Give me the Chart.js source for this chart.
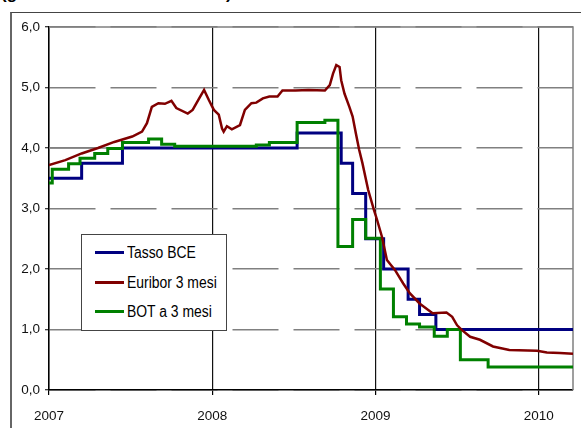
<!DOCTYPE html>
<html lang="it">
<head>
<meta charset="utf-8">
<script src="https://cdn.jsdelivr.net/npm/chart.js@4.4.0/dist/chart.umd.min.js"></script>
<style>
  body {
    margin: 0;
    width: 581px;
    height: 428px;
    overflow: hidden;
    position: relative;
    background: #fff;
    font-family: 'Liberation Sans Narrow', 'Arial Narrow', 'Liberation Sans', Arial, sans-serif;
  }
  #titolo {
    position: absolute;
    left: 1px;
    top: -15px;
    font: bold 17px/17px 'Liberation Sans', Arial, sans-serif;
    white-space: nowrap;
    color: #000;
  }
  #cornice {
    position: absolute;
    left: 10px;
    top: 12px;
    width: 620px;
    height: 480px;
    border-left: 2px solid #666;
    border-top: 1px solid #444;
  }
  #grafico { position: absolute; left: 0; top: 0; }
  #legenda {
    position: absolute;
    left: 81px;
    top: 234px;
    width: 144px;
    height: 95px;
    border: 1px solid #444;
    background: #fff;
  }
  .voce {
    position: absolute;
    left: 13px;
    height: 20px;
    line-height: 20px;
    font-size: 16px;
    color: #000;
    white-space: nowrap;
  }
  .voce .linea {
    display: inline-block;
    width: 29px;
    height: 3px;
    vertical-align: middle;
    margin-right: 3px;
    position: relative;
    top: -1px;
  }
  .voce .testo {
    display: inline-block;
    transform: scaleX(0.87);
    transform-origin: left center;
  }
</style>
</head>
<body>
<div id="titolo">(gennaio 2007 – marzo 2010)</div>
<div id="cornice"></div>
<canvas id="grafico" width="581" height="428"></canvas>
<div id="legenda"></div>

<script>
// Assi
const anni = [2007, 2008, 2009, 2010];
const valoriAsseY = [0, 1, 2, 3, 4, 5, 6];

// Tasso BCE (data di variazione, tasso)
const dateBce = [2007.00, 2007.20, 2007.45, 2008.52, 2008.79, 2008.86, 2008.94, 2009.05, 2009.20, 2009.27, 2009.37, 2010.21];
const tassoBce = [3.50, 3.75, 4.00, 4.25, 3.75, 3.25, 2.50, 2.00, 1.50, 1.25, 1.00, 1.00];

// Euribor 3 mesi
const dateEuribor = [
    2007.00, 2007.10, 2007.20, 2007.30, 2007.40, 2007.51, 2007.57, 2007.60, 2007.63, 2007.67,
    2007.71, 2007.75, 2007.78, 2007.85, 2007.88, 2007.92, 2007.95, 2007.98, 2008.01, 2008.04,
    2008.06, 2008.07, 2008.09, 2008.12, 2008.17, 2008.20, 2008.24, 2008.27, 2008.31, 2008.35,
    2008.40, 2008.43, 2008.51, 2008.59, 2008.69, 2008.72, 2008.74, 2008.76, 2008.78, 2008.79,
    2008.81, 2008.84, 2008.86, 2008.88, 2008.90, 2008.92, 2008.955, 2008.99, 2009.01, 2009.04,
    2009.07, 2009.12, 2009.17, 2009.21, 2009.27, 2009.35, 2009.435, 2009.47, 2009.50, 2009.53,
    2009.58, 2009.64, 2009.72, 2009.82, 2009.99, 2010.05, 2010.13, 2010.21
];
const tassoEuribor = [
    3.72, 3.80, 3.91, 4.00, 4.10, 4.19, 4.27, 4.41, 4.68, 4.74,
    4.73, 4.78, 4.66, 4.57, 4.63, 4.82, 4.96, 4.79, 4.63, 4.55,
    4.32, 4.27, 4.36, 4.31, 4.38, 4.63, 4.74, 4.75, 4.82, 4.85,
    4.85, 4.95, 4.95, 4.96, 4.95, 5.04, 5.23, 5.37, 5.34, 5.12,
    4.90, 4.68, 4.52, 4.24, 3.97, 3.75, 3.31, 2.98, 2.81, 2.53,
    2.15, 1.98, 1.76, 1.60, 1.43, 1.27, 1.28, 1.21, 1.07, 0.99,
    0.88, 0.83, 0.72, 0.66, 0.65, 0.62, 0.61, 0.60
];

// BOT a 3 mesi (aste)
const dateBot = [
    2007.00, 2007.02, 2007.12, 2007.19, 2007.28, 2007.36, 2007.45, 2007.61, 2007.69, 2007.77,
    2008.27, 2008.35, 2008.52, 2008.69, 2008.77, 2008.86, 2008.94, 2009.03, 2009.11, 2009.19,
    2009.27, 2009.36, 2009.44, 2009.52, 2009.69, 2010.21
];
const tassoBot = [
    3.42, 3.65, 3.74, 3.83, 3.91, 3.99, 4.09, 4.15, 4.06, 4.03,
    4.05, 4.09, 4.42, 4.46, 2.37, 2.82, 2.51, 1.67, 1.21, 1.09,
    1.04, 0.89, 1.00, 0.50, 0.38, 0.38
];

const serie = [
    { nome: 'Tasso BCE', colore: '#000080' },
    { nome: 'Euribor 3 mesi', colore: '#800000' },
    { nome: 'BOT a 3 mesi', colore: '#008000' }
];

const fontAssi = { family: "'Liberation Sans Narrow', 'Arial Narrow', 'Liberation Sans', Arial, sans-serif", size: 13.5 };

function punti(date, valori) {
    return date.map((d, i) => ({ x: d, y: valori[i] }));
}

// Bordo superiore/destro dell'area e tratto continuo a 4,0
const bordoArea = {
    id: 'bordoArea',
    beforeDatasetsDraw(chart) {
        const { ctx, chartArea: a, scales } = chart;
        const y4 = scales.y.getPixelForValue(4);
        ctx.save();
        ctx.strokeStyle = '#808080';
        ctx.lineWidth = 1.5;
        ctx.beginPath();
        ctx.moveTo(a.left, a.top);
        ctx.lineTo(a.right, a.top);
        ctx.lineTo(a.right, a.bottom);
        ctx.moveTo(a.left, y4);
        ctx.lineTo(scales.x.getPixelForValue(2009), y4);
        ctx.stroke();
        ctx.restore();
    }
};

new Chart(document.getElementById('grafico'), {
    type: 'line',
    data: {
        datasets: [
            {
                label: serie[0].nome,
                data: punti(dateBce, tassoBce),
                borderColor: serie[0].colore,
                borderWidth: 3,
                stepped: true,
                order: 2
            },
            {
                label: serie[1].nome,
                data: punti(dateEuribor, tassoEuribor),
                borderColor: serie[1].colore,
                borderWidth: 2.5,
                tension: 0,
                order: 0
            },
            {
                label: serie[2].nome,
                data: punti(dateBot, tassoBot),
                borderColor: serie[2].colore,
                borderWidth: 3,
                stepped: true,
                order: 1
            }
        ]
    },
    options: {
        responsive: false,
        animation: false,
        layout: { padding: { top: 27, right: 8, left: 0, bottom: 0 } },
        elements: { point: { radius: 0 } },
        plugins: {
            legend: { display: false },
            tooltip: { enabled: false }
        },
        scales: {
            x: {
                type: 'linear',
                min: 2007,
                max: 2010.21,
                afterBuildTicks: s => { s.ticks = anni.map(v => ({ value: v })); },
                afterFit: s => { s.height = 38; },
                grid: {
                    color: '#111',
                    lineWidth: 1.2,
                    tickLength: 5,
                    tickColor: '#000',
                    tickWidth: 1.2
                },
                border: { color: '#000', width: 1.5 },
                ticks: {
                    color: '#111',
                    font: fontAssi,
                    padding: 13,
                    maxRotation: 0,
                    callback: v => String(v)
                }
            },
            y: {
                min: 0,
                max: 6,
                afterBuildTicks: s => { s.ticks = valoriAsseY.map(v => ({ value: v })); },
                afterFit: s => { s.width = 49; },
                grid: {
                    color: '#808080',
                    lineWidth: 1.5,
                    tickLength: 4,
                    tickColor: '#000',
                    tickWidth: 1,
                    tickBorderDash: []
                },
                border: { color: '#000', width: 1.5, dash: [46, 15] },
                ticks: {
                    color: '#111',
                    font: fontAssi,
                    padding: 5,
                    callback: v => v.toFixed(1).replace('.', ',')
                }
            }
        }
    },
    plugins: [bordoArea]
});

// Legenda riquadrata dentro l'area del grafico
const legenda = document.getElementById('legenda');
serie.forEach((s, i) => {
    const voce = document.createElement('div');
    voce.className = 'voce';
    voce.style.top = (8 + i * 29.5) + 'px';
    voce.innerHTML = `<span class="linea" style="background:${s.colore}"></span><span class="testo">${s.nome}</span>`;
    legenda.appendChild(voce);
});
</script>
</body>
</html>
